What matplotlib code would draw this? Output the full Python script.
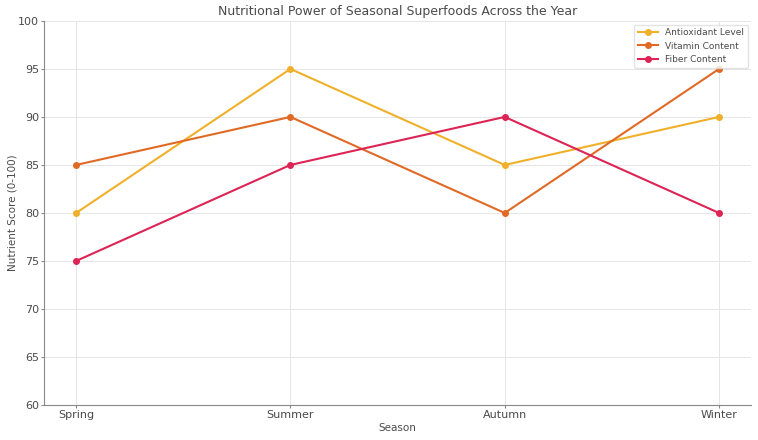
import matplotlib
matplotlib.use("Agg")
import matplotlib.pyplot as plt

seasons = ["Spring", "Summer", "Autumn", "Winter"]
antioxidant = [80, 95, 85, 90]
vitamin = [85, 90, 80, 95]
fiber = [75, 85, 90, 80]
series_names = ["Antioxidant Level", "Vitamin Content", "Fiber Content"]
colors = ["#F0B02A", "#E06A25", "#DC2455"]

text_color = "#4a4a4a"
fig = plt.figure(figsize=(7.58, 4.4), dpi=100)
ax = fig.add_axes([0.058, 0.0795, 0.933, 0.873])

for vals, name, c in zip([antioxidant, vitamin, fiber], series_names, colors):
    ax.plot(seasons, vals, color=c, marker="o", markersize=4, linewidth=1.5, label=name)

ax.set_ylim(60, 100)
ax.set_yticks(range(60, 101, 5))
ax.grid(True, color="#e6e6e6", linewidth=0.7)
ax.set_axisbelow(True)
for s in ["top", "right"]:
    ax.spines[s].set_visible(False)
for s in ["left", "bottom"]:
    ax.spines[s].set_color("#888888")
ax.tick_params(colors="#888888", labelcolor=text_color, labelsize=8, length=2, pad=1.5)
ax.set_title("Nutritional Power of Seasonal Superfoods Across the Year", fontsize=9, color=text_color, pad=4)
ax.set_xlabel("Season", fontsize=7.5, color=text_color, labelpad=2)
ax.set_ylabel("Nutrient Score (0-100)", fontsize=7.5, color=text_color, labelpad=0.5)
leg = ax.legend(loc="upper right", fontsize=6.5, frameon=True, labelcolor=text_color,
                borderaxespad=0.4, handlelength=2.2)
leg.get_frame().set_edgecolor("#dddddd")

fig.savefig("out.png", dpi=100)
